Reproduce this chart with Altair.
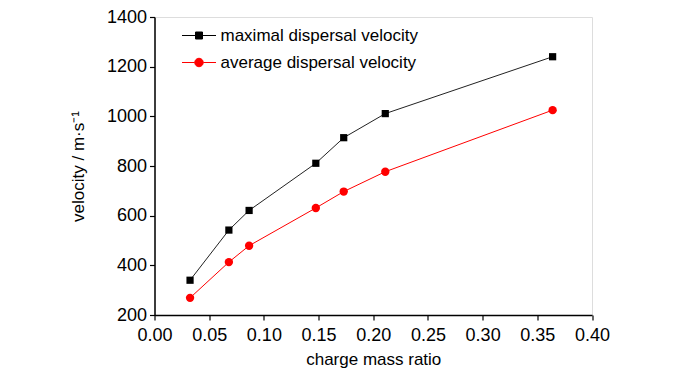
import altair as alt
import pandas as pd

# ---- data ----
charge_mass_ratio = [0.0325, 0.068, 0.0865, 0.1475, 0.173, 0.211, 0.364]
maximal_velocity = [340, 542, 621, 811, 914, 1011, 1240]
average_velocity = [269, 413, 479, 631, 697, 777, 1025]
series_names = ["maximal dispersal velocity", "average dispersal velocity"]
series_colors = ["#000000", "#ff0000"]

x_tick_values = [0.0, 0.025, 0.05, 0.075, 0.10, 0.125, 0.15, 0.175, 0.20,
                 0.225, 0.25, 0.275, 0.30, 0.325, 0.35, 0.375, 0.40]
y_tick_values = [200, 300, 400, 500, 600, 700, 800, 900, 1000, 1100,
                 1200, 1300, 1400]

rows = []
for x, v in zip(charge_mass_ratio, maximal_velocity):
    rows.append({"ratio": x, "velocity": v, "series": series_names[0]})
for x, v in zip(charge_mass_ratio, average_velocity):
    rows.append({"ratio": x, "velocity": v, "series": series_names[1]})
df = pd.DataFrame(rows)

FONT = "Liberation Sans, Arial, sans-serif"

x_enc = alt.X(
    "ratio:Q",
    scale=alt.Scale(domain=[0, 0.40], nice=False, zero=False),
    axis=alt.Axis(
        title="charge mass ratio",
        values=x_tick_values,
        labelExpr="abs(datum.value*20 - round(datum.value*20)) < 0.001 ? format(datum.value, '.2f') : ''",
        tickSize={"condition": {"test": "abs(datum.value*20 - round(datum.value*20)) < 0.001", "value": 5}, "value": 3},
        labelOverlap=False,
        labelFlush=False,
        grid=False,
        domainColor="#000000",
        domainWidth=1.5,
        tickColor="#000000",
        tickWidth=1.2,
        labelFont=FONT,
        labelFontSize=18,
        labelColor="#000000",
        labelPadding=6,
        titleFont=FONT,
        titleFontSize=17,
        titleFontWeight="normal",
        titleColor="#000000",
        titlePadding=7,
    ),
)
y_enc = alt.Y(
    "velocity:Q",
    scale=alt.Scale(domain=[200, 1400], nice=False, zero=False),
    axis=alt.Axis(
        title="velocity / m·s⁻¹",
        values=y_tick_values,
        labelExpr="datum.value % 200 == 0 ? format(datum.value, 'd') : ''",
        tickSize={"condition": {"test": "datum.value % 200 == 0", "value": 5}, "value": 3},
        labelOverlap=False,
        labelFlush=False,
        grid=False,
        domainColor="#000000",
        domainWidth=1.5,
        tickColor="#000000",
        tickWidth=1.2,
        labelFont=FONT,
        labelFontSize=18,
        labelColor="#000000",
        labelPadding=3,
        titleFont=FONT,
        titleFontSize=17,
        titleFontWeight="normal",
        titleColor="#000000",
        titlePadding=19,
    ),
)

base = alt.Chart(df)


def series_line(name, color):
    return base.transform_filter(alt.datum.series == name).mark_line(
        strokeWidth=1, color=color
    ).encode(x=x_enc, y=y_enc)


line_max = series_line(series_names[0], "#222222")
line_avg = series_line(series_names[1], series_colors[1])

squares = base.transform_filter(
    alt.datum.series == series_names[0]
).mark_point(shape="square", filled=True, size=52, color=series_colors[0], opacity=1).encode(
    x="ratio:Q", y="velocity:Q"
)

circles = base.transform_filter(
    alt.datum.series == series_names[1]
).mark_point(shape="circle", filled=True, size=70, color=series_colors[1], opacity=1).encode(
    x="ratio:Q", y="velocity:Q"
)

# legend carrier: no marks drawn (empty after filter), legend symbol = line + marker
legend_paths = [
    "M-3.4,0H3.4M-0.7,-0.7H0.7V0.7H-0.7Z",
    "M-3.4,0H-0.85M0.85,0H3.4M-0.85,0A0.85,0.85 0 1,0 0.85,0A0.85,0.85 0 1,0 -0.85,0Z",
]
legend_layer = base.transform_filter(
    alt.datum.velocity < 0
).mark_point(filled=True, size=100, strokeWidth=1).encode(
    x="ratio:Q",
    y="velocity:Q",
    shape=alt.Shape("series:N",
                    scale=alt.Scale(domain=series_names, range=legend_paths),
                    legend=alt.Legend(
                        title=None,
                        orient="none",
                        legendX=36,
                        legendY=10,
                        padding=0,
                        labelFont=FONT,
                        labelFontSize=17,
                        labelColor="#000000",
                        labelOffset=13,
                        rowPadding=9,
                        symbolSize=100,
                        symbolStrokeWidth=1,
                        symbolOpacity=1,
                        labelLimit=400,
                    )),
    fill=alt.Fill("series:N", scale=alt.Scale(domain=series_names, range=series_colors)),
    stroke=alt.Stroke("series:N", scale=alt.Scale(domain=series_names, range=series_colors)),
)

chart = alt.layer(line_max, line_avg, squares, circles, legend_layer).properties(
    width=437.5,
    height=298,
    autosize=alt.AutoSizeParams(type="none"),
    padding={"left": 146.5, "top": 9, "right": 100, "bottom": 56},
).configure_view(stroke=None).configure(background="#ffffff")

chart.save("out.html", embed_options={"renderer": "svg", "actions": False})
